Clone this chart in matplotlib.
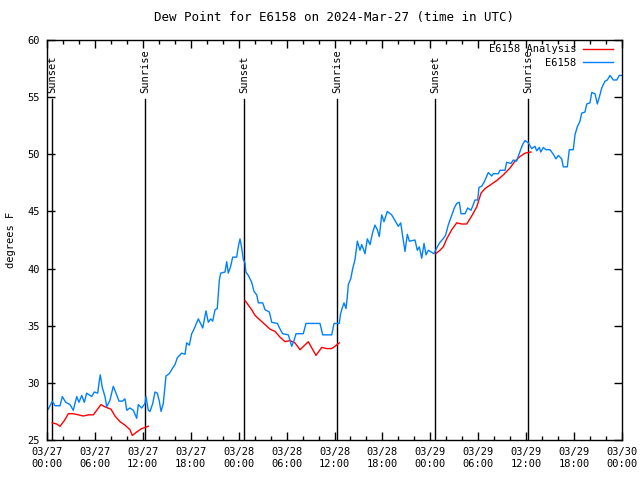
import matplotlib
matplotlib.use("Agg")
import matplotlib.pyplot as plt
import matplotlib.dates as mdates
from matplotlib.ticker import MultipleLocator
import numpy as np
import pandas as pd

start = pd.Timestamp("2024-03-27 00:00")

# hours since 03/27 00:00 UTC, dew point in F
obs_hours = [0.16, 0.66, 1.0, 1.63, 1.92, 2.34, 2.88, 3.29, 3.72, 4.0, 4.35, 4.67, 4.97, 5.6, 5.92,
             6.35, 6.55, 6.67, 6.92, 7.26, 7.48, 7.89, 8.3, 8.64, 9.02, 9.43, 9.77, 9.98, 10.39, 10.81,
             11.23, 11.43, 11.86, 12.27, 12.4, 12.68, 12.9, 13.24, 13.52, 13.81, 14.06, 14.28, 14.56,
             14.9, 15.31, 15.74, 16.03, 16.32, 16.87, 17.28, 17.49, 17.82, 18.12, 18.41, 18.95, 19.5,
             19.91, 20.2, 20.5, 20.75, 21.04, 21.32, 21.58, 21.75, 22.29, 22.5, 22.7, 23.0, 23.25,
             23.75, 23.95, 24.17, 24.38, 24.58, 24.79, 24.9, 25.21, 25.63, 25.92, 26.26, 26.46, 27.01,
             27.3, 27.84, 28.14, 28.84, 29.26, 29.51, 30.22, 30.64, 30.93, 31.18, 32.09, 32.43, 34.18,
             34.52, 35.65, 35.94, 36.6, 36.75, 36.9, 37.19, 37.44, 37.6, 37.73, 38.03, 38.28, 38.57,
             38.86, 39.19, 39.41, 39.82, 40.11, 40.45, 40.79, 41.07, 41.36, 41.61, 41.91, 42.2, 42.61,
             43.16, 43.58, 43.99, 44.29, 44.54, 44.83, 45.12, 45.37, 46.08, 46.37, 46.62, 46.92, 47.21,
             47.46, 47.75, 48.46, 48.87, 49.21, 49.6, 49.9, 50.24, 50.59, 51.0, 51.3, 51.63, 51.84,
             52.34, 52.68, 53.09, 53.38, 53.59, 53.93, 54.09, 54.43, 54.76, 55.26, 55.68, 55.89, 56.51,
             56.72, 57.35, 57.56, 58.1, 58.39, 58.81, 59.1, 59.52, 59.85, 60.27, 60.69, 61.11, 61.32,
             61.65, 61.82, 62.15, 62.48, 62.99, 63.4, 63.74, 64.03, 64.45, 64.65, 65.15, 65.4, 65.9,
             66.11, 66.4, 66.74, 66.95, 67.37, 67.58, 67.99, 68.21, 68.62, 68.91, 69.16, 69.46, 69.87,
             70.16, 70.5, 70.91, 71.34, 71.66, 72.0]
obs_dewpt = [27.7, 28.4, 28.0, 28.0, 28.8, 28.3, 28.1, 27.6, 28.8, 28.3, 28.9, 28.3, 29.1, 28.8, 29.2,
             29.1, 30.2, 30.7, 29.6, 28.8, 27.9, 28.5, 29.7, 29.1, 28.4, 28.4, 28.6, 27.6, 27.8, 27.6,
             26.9, 28.1, 27.8, 28.2, 28.8, 27.6, 27.5, 28.2, 29.2, 29.1, 28.4, 27.5, 28.2,
             30.6, 30.8, 31.3, 31.6, 32.2, 32.6, 32.5, 33.5, 33.3, 34.3, 34.7, 35.6, 34.8,
             36.3, 35.3, 35.6, 35.4, 36.4, 36.5, 39.0, 39.6, 39.7, 40.6, 39.6, 40.2, 41.0,
             41.0, 41.9, 42.6, 41.8, 40.8, 40.5, 39.7, 39.4, 38.8, 38.0, 37.7, 37.0, 37.0,
             36.4, 36.2, 35.3, 35.2, 34.6, 34.3, 34.2, 33.2, 33.7, 34.3, 34.3, 35.2, 35.2,
             34.2, 34.2, 35.2, 35.2, 36.0, 36.4, 37.0, 36.5, 37.5, 38.6, 39.1, 40.0, 40.8,
             42.4, 41.6, 42.1, 41.3, 42.6, 42.1, 43.2, 43.8, 43.4, 42.8, 44.7, 44.1, 45.0,
             44.7, 44.2, 43.7, 44.0, 42.8, 41.5, 43.0, 42.4, 42.5, 41.6, 41.9, 40.9, 42.2,
             41.2, 41.6, 41.3, 41.9, 42.3, 42.6, 42.9, 43.8, 44.5, 45.3, 45.7, 45.8, 44.8,
             44.8, 45.3, 45.1, 45.6, 46.0, 46.0, 47.1, 47.2, 47.6, 48.4, 48.1, 48.3, 48.3,
             48.6, 48.6, 49.3, 49.2, 49.5, 49.4, 50.0, 50.8, 51.2, 51.0, 50.5, 50.7, 50.3,
             50.6, 50.2, 50.6, 50.4, 50.4, 50.0, 49.6, 49.9, 49.6, 48.9, 48.9, 50.4, 50.4,
             51.7, 52.4, 52.9, 53.6, 53.7, 54.4, 54.5, 55.4, 55.3, 54.4, 55.0, 55.8, 56.4,
             56.5, 56.9, 56.5, 56.5, 56.9, 56.9]

# analysis only covers the nights, NaN splits the segments
ana_hours = [0.66, 1.21, 1.63, 2.17, 2.67, 3.29, 3.92, 4.55, 5.17, 5.8, 6.22, 6.76, 7.26, 8.01, 8.51,
             9.14, 9.77, 10.39, 10.68, 11.23, 11.86, 12.68, 18.0,
             24.79, 25.21, 25.63, 26.05, 26.67, 27.3, 27.92, 28.55, 29.18, 29.8, 30.43, 31.05, 31.68,
             32.72, 33.68, 34.4, 35.02, 35.65, 36.06, 36.6, 42.0,
             48.67, 49.21, 49.62, 50.05, 50.68, 51.3, 51.93, 52.55, 53.18, 53.81, 54.35, 54.85, 55.68,
             56.31, 57.14, 57.98, 58.6, 59.23, 59.85, 60.61]
ana_dewpt = [26.5, 26.4, 26.2, 26.7, 27.3, 27.3, 27.2, 27.1, 27.2, 27.2, 27.6, 28.1, 27.9, 27.7, 27.1,
             26.6, 26.3, 25.9, 25.4, 25.7, 26.0, 26.2, np.nan,
             37.2, 36.8, 36.4, 35.9, 35.5, 35.1, 34.7, 34.5, 34.0, 33.6, 33.7, 33.5, 32.9,
             33.6, 32.4, 33.1, 33.0, 33.0, 33.2, 33.5, np.nan,
             41.3, 41.6, 41.9, 42.6, 43.4, 44.0, 43.9, 43.9, 44.6, 45.4, 46.6, 47.0, 47.4,
             47.7, 48.2, 48.8, 49.4, 49.8, 50.1, 50.2]

sun_hours = [0.63, 12.27, 24.67, 36.31, 48.58, 60.23]
sun_labels = ["Sunset", "Sunrise", "Sunset", "Sunrise", "Sunset", "Sunrise"]

obs_t = start + pd.to_timedelta(obs_hours, unit="h")
ana_t = start + pd.to_timedelta(ana_hours, unit="h")
sun_t = start + pd.to_timedelta(sun_hours, unit="h")

plt.rcParams['font.family'] = ['DejaVu Sans Mono']
plt.rcParams['font.size'] = 7.5

fig = plt.figure(figsize=(6.4, 4.8), dpi=100)
ax = fig.add_axes([47/640, 40/480, 575/640, 400/480])

for t, lab in zip(sun_t, sun_labels):
    ax.plot([t, t], [25, 54.8], color="black", lw=1)
    ax.text(t, 55.4, lab, rotation=90, ha="center", va="bottom")

ax.plot(ana_t, ana_dewpt, color="#ff0000", lw=1, label="E6158 Analysis")
ax.plot(obs_t, obs_dewpt, color="#0080ff", lw=1, label="E6158")

ax.set_xlim(start, start + pd.Timedelta(hours=72))
ax.set_ylim(25, 60)
ax.xaxis.set_major_locator(mdates.HourLocator(byhour=[0, 6, 12, 18]))
ax.xaxis.set_minor_locator(mdates.HourLocator(byhour=range(0, 24, 2)))
ax.xaxis.set_major_formatter(mdates.DateFormatter("%m/%d\n%H:%M"))
ax.yaxis.set_major_locator(MultipleLocator(5))
ax.tick_params(which="both", direction="in", top=True, right=True, width=1)
ax.tick_params(which="major", length=6, pad=5)
ax.tick_params(which="minor", length=3)
for s in ax.spines.values():
    s.set_linewidth(1)

ax.set_ylabel("degrees F", labelpad=8)
ax.set_title("Dew Point for E6158 on 2024-Mar-27 (time in UTC)", pad=14)
ax.legend(loc="upper right", bbox_to_anchor=(0.995, 1.005), frameon=False, markerfirst=False,
          handlelength=2.9, handletextpad=0.6, labelspacing=0.35, borderaxespad=0.2)

fig.savefig("out.png", dpi=100)
